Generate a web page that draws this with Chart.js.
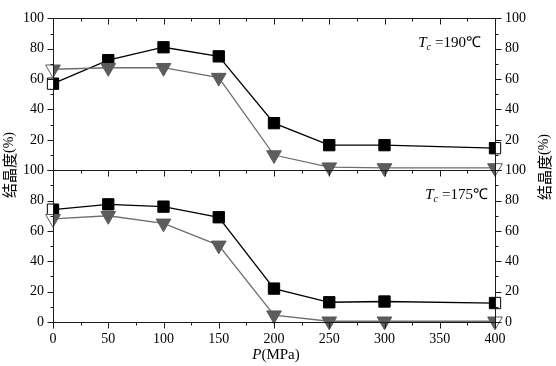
<!DOCTYPE html>
<html><head><meta charset="utf-8">
<script src="https://cdn.jsdelivr.net/npm/chart.js@4/dist/chart.umd.min.js"></script>
<style>html,body{margin:0;padding:0;background:#fff}#wrap{position:relative;width:556px;height:366px}
.pre{position:absolute;left:-999px;top:0;font-family:"Liberation Serif";}
.pre2{position:absolute;left:-999px;top:0;font-family:"Noto Sans CJK SC";}</style>
</head><body><div id="wrap"><canvas id="c" width="556" height="366"></canvas></div>
<span class="pre">0123 <i>TP</i></span><span class="pre2">结晶度</span>
<script>
// ---- data ----
const pressure = [0, 50, 100, 150, 200, 250, 300, 400];
const xTickValues = [0, 50, 100, 150, 200, 250, 300, 350, 400];
const yTickValues = [0, 20, 40, 60, 80, 100];
const square190 = [57, 72.5, 81, 75, 31, 16.5, 16.5, 14.5];
const triangle190 = [66.5, 67.5, 67.5, 61, 10, 2, 1.5, 1.5];
const square175 = [74, 77.5, 76, 69, 22, 13, 13.5, 12.5];
const triangle175 = [68, 70, 65, 50.5, 4.5, 0.5, 0.5, 0.5];
const panelTemps = ['=190℃', '=175℃'];
const yTitleCJK = '结晶度';
const yTitleUnit = '(%)';
const xTitleVar = 'P';
const xTitleUnit = '(MPa)';

const SERIF = '"Liberation Serif", "Times New Roman", serif';
const BLACK = '#000000';
const GRAY = '#5c5c5c';
const GRAY_LINE = '#6e6e6e';

function pts(ys) { return pressure.map((x, i) => ({ x: x, y: ys[i] })); }

function halfFill(color) {
  return (ctx) => {
    if (ctx.type !== 'data') return color;
    const i = ctx.dataIndex, last = pressure.length - 1;
    if (i !== 0 && i !== last) return color;
    const chart = ctx.chart;
    const sx = chart.scales && chart.scales.x;
    if (!sx) return color;
    const px = sx.getPixelForValue(pressure[i]);
    if (!isFinite(px)) return color;
    const g = chart.ctx.createLinearGradient(px - 10, 0, px + 10, 0);
    if (i === 0) {
      g.addColorStop(0, '#ffffff'); g.addColorStop(0.5, '#ffffff');
      g.addColorStop(0.5, color); g.addColorStop(1, color);
    } else {
      g.addColorStop(0, color); g.addColorStop(0.5, color);
      g.addColorStop(0.5, '#ffffff'); g.addColorStop(1, '#ffffff');
    }
    return g;
  };
}

function sqSet(ys, axis) {
  return {
    data: pts(ys), yAxisID: axis, borderColor: BLACK, borderWidth: 1.3, clip: false,
    pointStyle: 'rect', pointRadius: 8, pointBorderWidth: 1,
    pointBorderColor: BLACK, pointBackgroundColor: halfFill(BLACK), fill: false, tension: 0
  };
}
function triSet(ys, axis) {
  return {
    data: pts(ys), yAxisID: axis, borderColor: GRAY_LINE, borderWidth: 1.3, clip: false,
    pointStyle: 'triangle', pointRotation: 180, pointRadius: 8.5, pointBorderWidth: 1,
    pointBorderColor: GRAY, pointBackgroundColor: halfFill(GRAY), fill: false, tension: 0
  };
}

function yAxis(pos, stack, hideZero, width, pad) {
  return {
    type: 'linear', position: pos, stack: stack, stackWeight: 1,
    min: 0, max: 100,
    afterBuildTicks: (s) => { s.ticks = yTickValues.map(v => ({ value: v })); },
    ticks: {
      autoSkip: false, padding: pad, color: BLACK,
      font: { family: SERIF, size: 14 },
      callback: (v) => (hideZero && v === 0) ? '' : String(v)
    },
    grid: { display: false, drawTicks: false },
    border: { display: false },
    afterFit: (s) => { s.width = width; }
  };
}

const frame = {
  id: 'frame',
  afterDraw(chart) {
    const ctx = chart.ctx, ca = chart.chartArea;
    const sx = chart.scales.x, yT = chart.scales.yT, yB = chart.scales.yB;
    ctx.save();
    ctx.strokeStyle = '#1a1a1a';
    ctx.lineWidth = 1;
    const r = (v) => Math.round(v) + 0.5;
    [yT, yB].forEach(s => {
      ctx.strokeRect(r(ca.left), r(s.top), Math.round(ca.right) - Math.round(ca.left), Math.round(s.bottom) - Math.round(s.top));
    });
    ctx.beginPath();
    for (let v = 0; v <= 400; v += 25) {
      const px = r(sx.getPixelForValue(v));
      const len = (v % 50 === 0) ? 6 : 3;
      ctx.moveTo(px, r(yB.bottom)); ctx.lineTo(px, r(yB.bottom) + len);
      [yT, yB].forEach(s => { ctx.moveTo(px, r(s.top)); ctx.lineTo(px, r(s.top) + len); });
    }
    [yT, yB].forEach(s => {
      for (let v = 0; v <= 100; v += 10) {
        const py = r(s.getPixelForValue(v));
        const len = (v % 20 === 0) ? 6 : 3;
        ctx.moveTo(r(ca.left), py); ctx.lineTo(r(ca.left) - len, py);
        ctx.moveTo(r(ca.right), py); ctx.lineTo(r(ca.right) + len, py);
      }
    });
    ctx.stroke();

    ctx.fillStyle = BLACK;
    ctx.textBaseline = 'alphabetic';
    function drawTc(xRight, baseline, temp) {
      ctx.font = 'italic 15px ' + SERIF; const wT = ctx.measureText('T').width;
      ctx.font = 'italic 10px ' + SERIF; const wc = ctx.measureText('c').width;
      ctx.font = '15px ' + SERIF; const wr = ctx.measureText(temp).width;
      const gap = 4;
      let x = xRight - (wT + wc + gap + wr);
      ctx.textAlign = 'left';
      ctx.font = 'italic 15px ' + SERIF; ctx.fillText('T', x, baseline); x += wT;
      ctx.font = 'italic 10px ' + SERIF; ctx.fillText('c', x, baseline + 3); x += wc + gap;
      ctx.font = '15px ' + SERIF; ctx.fillText(temp, x, baseline);
    }
    drawTc(ca.right - 14, yT.top + 29, panelTemps[0]);
    drawTc(ca.right - 7, yB.top + 29, panelTemps[1]);

    ctx.font = 'italic 15px ' + SERIF; const wP = ctx.measureText(xTitleVar).width;
    ctx.font = '15px ' + SERIF; const wU = ctx.measureText(xTitleUnit).width;
    let xs = (ca.left + ca.right) / 2 + 2 - (wP + wU) / 2;
    ctx.textAlign = 'left';
    ctx.font = 'italic 15px ' + SERIF; ctx.fillText(xTitleVar, xs, 359);
    ctx.font = '15px ' + SERIF; ctx.fillText(xTitleUnit, xs + wP, 359);

    function yTitle(cx, cy) {
      ctx.save();
      ctx.translate(cx, cy);
      ctx.rotate(-Math.PI / 2);
      ctx.font = '15px "Noto Sans CJK SC"'; const w1 = ctx.measureText(yTitleCJK).width;
      ctx.font = '14px ' + SERIF; const w2 = ctx.measureText(yTitleUnit).width;
      let x0 = -(w1 + w2) / 2;
      ctx.textAlign = 'left';
      ctx.textBaseline = 'middle';
      ctx.font = '15px "Noto Sans CJK SC"'; ctx.fillText(yTitleCJK, x0, 0);
      ctx.font = '14px ' + SERIF; ctx.fillText(yTitleUnit, x0 + w1, 0);
      ctx.restore();
    }
    yTitle(9, 165);
    yTitle(544, 167);
    ctx.restore();
  }
};

function build() {
  new Chart(document.getElementById('c'), {
    type: 'line',
    data: {
      datasets: [
        triSet(triangle190, 'yT'),
        sqSet(square190, 'yT'),
        triSet(triangle175, 'yB'),
        sqSet(square175, 'yB')
      ]
    },
    options: {
      responsive: false, animation: false, devicePixelRatio: 1,
      layout: { padding: { top: 9, left: 0, right: 0, bottom: 0 } },
      plugins: { legend: { display: false }, tooltip: { enabled: false } },
      scales: {
        x: {
          type: 'linear', position: 'bottom', min: 0, max: 400,
          afterBuildTicks: (s) => { s.ticks = xTickValues.map(v => ({ value: v })); },
          ticks: { autoSkip: false, maxRotation: 0, padding: 9, color: BLACK, font: { family: SERIF, size: 14 } },
          grid: { display: false, drawTicks: false },
          border: { display: false },
          afterFit: (s) => { s.height = 44; }
        },
        yB: yAxis('left', 'L', false, 53, 9),
        yT: yAxis('left', 'L', true, 53, 9),
        rT: yAxis('right', 'R', true, 61, 10),
        rB: yAxis('right', 'R', false, 61, 10)
      }
    },
    plugins: [frame]
  });
}

Promise.all([
  document.fonts.load('14px "Liberation Serif"'),
  document.fonts.load('italic 15px "Liberation Serif"'),
  document.fonts.load('15px "Noto Sans CJK SC"', '结晶度')
]).then(build, build);
</script>
</body></html>
